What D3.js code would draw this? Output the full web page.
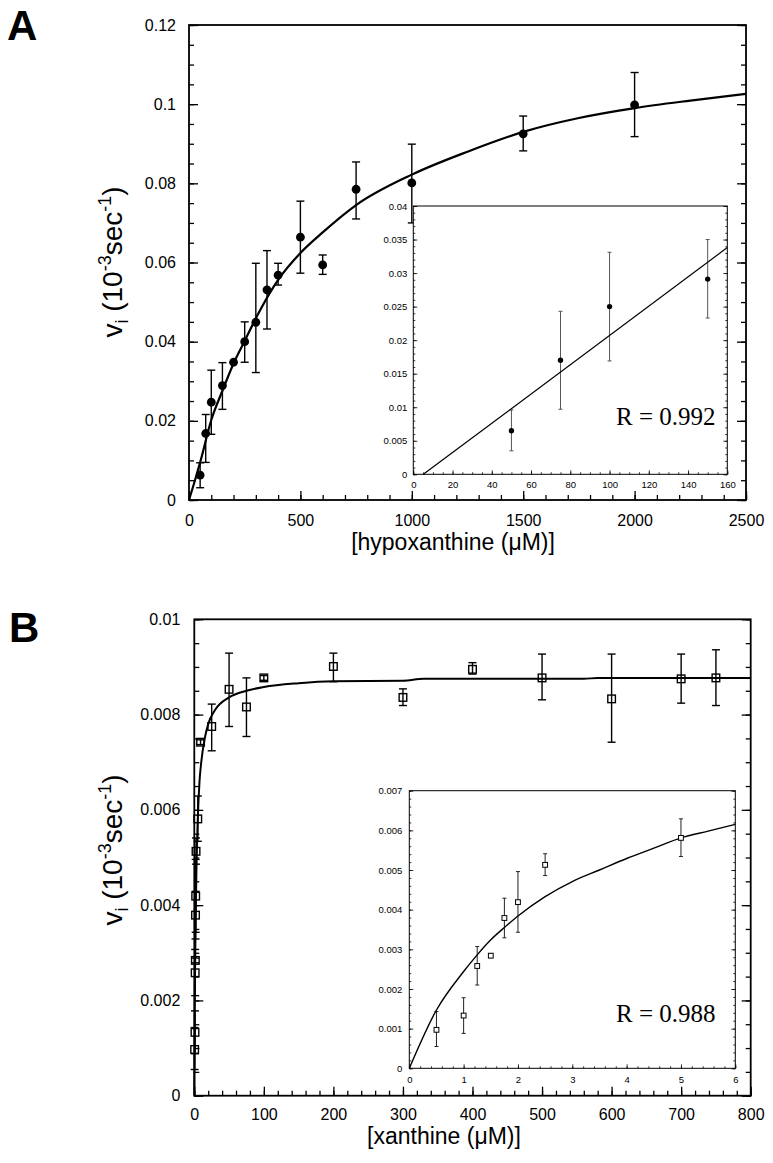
<!DOCTYPE html>
<html><head><meta charset="utf-8">
<script src="https://cdn.jsdelivr.net/npm/d3@7"></script>
<style>
body{margin:0;background:#fff}
svg{font-family:"Liberation Sans",Arial,Helvetica,sans-serif}
</style>
</head><body>
<svg id="chart" width="773" height="1163"></svg>
<script>
// ---------- Panel A : hypoxanthine ----------
const hypoX  = [50, 75, 100, 150, 200, 250, 300, 350, 400, 500, 600, 750, 1000, 1500, 2000];
const hypoV  = [0.0063, 0.0168, 0.0247, 0.0289, 0.0348, 0.0400, 0.0449, 0.0531, 0.0568, 0.0664, 0.0594, 0.0785, 0.0801, 0.0925, 0.0998];
const hypoHi = [0.0094, 0.0216, 0.0328, 0.0347, 0.0348, 0.0450, 0.0598, 0.0630, 0.0598, 0.0755, 0.0619, 0.0854, 0.0899, 0.0970, 0.1080];
const hypoLo = [0.0031, 0.0095, 0.0166, 0.0229, 0.0348, 0.0348, 0.0322, 0.0432, 0.0543, 0.0573, 0.0570, 0.0710, 0.0700, 0.0882, 0.0918];
const hypoFitX = [0, 25, 50, 100, 150, 200, 250, 300, 400, 500, 600, 750, 1000, 1250, 1500, 1750, 2000, 2250, 2500];
const hypoFitV = [0, 0.0046, 0.0095, 0.0202, 0.0276, 0.0345, 0.0402, 0.0459, 0.0556, 0.0624, 0.0676, 0.0745, 0.0822, 0.0880, 0.0930, 0.0965, 0.0990, 0.1009, 0.1026];
const hypoXTicks = [0, 500, 1000, 1500, 2000, 2500];
const hypoYTicks = [0, 0.02, 0.04, 0.06, 0.08, 0.1, 0.12];

// Inset A
const insAX  = [50, 75, 100, 150];
const insAV  = [0.0065, 0.0170, 0.0250, 0.0291];
const insAHi = [0.0096, 0.0243, 0.0331, 0.0350];
const insALo = [0.0035, 0.0097, 0.0169, 0.0233];
const insALineX = [5.1, 160];
const insALineV = [0, 0.0338];
const insAXTicks = [0, 20, 40, 60, 80, 100, 120, 140, 160];
const insAYTicks = [0, 0.005, 0.01, 0.015, 0.02, 0.025, 0.03, 0.035, 0.04];

// ---------- Panel B : xanthine ----------
const xanX  = [0.5, 1, 1.25, 1.5, 1.75, 2, 2.5, 5, 9, 25, 50, 75, 100, 200, 300, 400, 500, 600, 700, 750];
const xanV  = [0.00097, 0.00133, 0.00258, 0.00284, 0.00379, 0.00419, 0.00513, 0.00581, 0.00742, 0.00775, 0.00853, 0.00816, 0.00877, 0.00901, 0.00836, 0.00895, 0.00877, 0.00833, 0.00875, 0.00877];
const xanHi = [0.00143, 0.00178, 0.00307, 0.00289, 0.00429, 0.00496, 0.00541, 0.00629, 0.00747, 0.00822, 0.00929, 0.00877, 0.00882, 0.00929, 0.00854, 0.00909, 0.00927, 0.00927, 0.00927, 0.00936];
const xanLo = [0.00055, 0.00088, 0.00210, 0.00279, 0.00329, 0.00343, 0.00486, 0.00534, 0.00737, 0.00724, 0.00775, 0.00754, 0.00872, 0.00869, 0.00819, 0.00885, 0.00831, 0.00742, 0.00824, 0.00819];
const xanFitX = [0, 1, 2, 3, 5, 7.5, 10, 15, 20, 30, 50, 75, 100, 150, 200, 300, 330, 560, 580, 800];
const xanFitV = [0, 0.0025, 0.0038, 0.0047, 0.0058, 0.0066, 0.0070, 0.0075, 0.0078, 0.0081, 0.00836, 0.0085, 0.00858, 0.00866, 0.00870, 0.00871, 0.00875, 0.00875, 0.00877, 0.00877];
const xanXTicks = [0, 100, 200, 300, 400, 500, 600, 700, 800];
const xanYTicks = [0, 0.002, 0.004, 0.006, 0.008, 0.01];

// Inset B
const insBFitX = [0, 0.5, 1, 1.25, 1.5, 1.75, 2, 2.5, 3, 3.5, 4, 4.5, 5, 5.5, 6];
const insBFitV = [0, 0.00147, 0.00244, 0.00286, 0.00324, 0.00355, 0.00384, 0.00433, 0.00471, 0.00500, 0.00529, 0.00555, 0.00581, 0.00598, 0.00615];
const insBXTicks = [0, 1, 2, 3, 4, 5, 6];
const insBYTicks = [0, 0.001, 0.002, 0.003, 0.004, 0.005, 0.006, 0.007];

const svg = d3.select("#chart");
const fmt = d => String(+d.toFixed(4));
const SANS = '"Liberation Sans", Arial, Helvetica, sans-serif';
const SERIF = '"Liberation Serif", "Times New Roman", Times, serif';

function range(a, b, s) { const r = []; for (let v = a; v <= b + s * 1e-6; v += s) r.push(+v.toFixed(6)); return r; }

// generic framed plot
function framed(o) {
  const g = svg.append("g");
  const x = o.x, y = o.y;
  const [x0, x1] = x.range(), [y0, y1] = y.range();
  if (o.bg) g.append("rect").attr("x", x0).attr("y", y1).attr("width", x1 - x0).attr("height", y0 - y1).attr("fill", "#fff");
  const minorOpts = (ax) => ax.tickFormat("").tickSizeOuter(0);
  const addAxis = (ax, tr) => {
    const a = g.append("g").attr("transform", tr).call(ax);
    a.select(".domain").remove();
    a.selectAll("line").attr("stroke", "#000").attr("stroke-width", o.tickW);
    return a;
  };
  addAxis(minorOpts(d3.axisLeft(y).tickValues(o.yMinor).tickSize(-o.minorLen)), `translate(${x0},0)`);
  addAxis(minorOpts(d3.axisRight(y).tickValues(o.yMinor).tickSize(-o.minorLen)), `translate(${x1},0)`);
  addAxis(minorOpts(d3.axisBottom(x).tickValues(o.xMinor).tickSize(-o.minorLen)), `translate(0,${y0})`);
  addAxis(d3.axisRight(y).tickValues(o.yMajor).tickSize(-o.majorLen).tickFormat("").tickSizeOuter(0), `translate(${x1},0)`);
  const ya = addAxis(d3.axisLeft(y).tickValues(o.yMajor).tickSize(-o.majorLen).tickPadding(o.yPad).tickFormat(fmt).tickSizeOuter(0), `translate(${x0},0)`);
  const xa = addAxis(d3.axisBottom(x).tickValues(o.xMajor).tickSize(-o.majorLen).tickPadding(o.xPad).tickFormat(fmt).tickSizeOuter(0), `translate(0,${y0})`);
  [ya, xa].forEach(a => { a.attr("font-size", o.fs).attr("font-family", SANS);
    a.selectAll("text").attr("fill", "#000"); });
  g.append("rect").attr("x", x0).attr("y", y1).attr("width", x1 - x0).attr("height", y0 - y1)
    .attr("fill", "none").attr("stroke", "#000").attr("stroke-width", o.frameW);
  return g;
}

function errBars(g, x, y, xs, hi, lo, cap, color, w) {
  const idx = xs.map((d, i) => i).filter(i => Math.abs(y(hi[i]) - y(lo[i])) > 0.5);
  const eg = g.append("g").attr("stroke", color).attr("stroke-width", w).attr("fill", "none");
  idx.forEach(i => {
    const cx = x(xs[i]);
    eg.append("line").attr("x1", cx).attr("x2", cx).attr("y1", y(hi[i])).attr("y2", y(lo[i]));
    eg.append("line").attr("x1", cx - cap / 2).attr("x2", cx + cap / 2).attr("y1", y(hi[i])).attr("y2", y(hi[i]));
    eg.append("line").attr("x1", cx - cap / 2).attr("x2", cx + cap / 2).attr("y1", y(lo[i])).attr("y2", y(lo[i]));
  });
}

function yTitle(cx, cy) {
  const t = svg.append("text").attr("transform", `translate(${cx},${cy}) rotate(-90)`)
    .attr("text-anchor", "middle").attr("font-size", 28).attr("font-family", SANS);
  t.append("tspan").text("v");
  t.append("tspan").attr("font-size", 18).attr("dy", 6).text("i");
  t.append("tspan").attr("dy", -6).text(" (10");
  t.append("tspan").attr("font-size", 18).attr("dy", -11).text("-3");
  t.append("tspan").attr("dy", 11).text("sec");
  t.append("tspan").attr("font-size", 18).attr("dy", -11).text("-1");
  t.append("tspan").attr("dy", 11).text(")");
}

// ===== Panel A main =====
const xA = d3.scaleLinear().domain([0, 2500]).range([189, 746]);
const yA = d3.scaleLinear().domain([0, 0.12]).range([500, 25]);
const gA = framed({x: xA, y: yA, xMajor: hypoXTicks, yMajor: hypoYTicks,
  xMinor: range(0, 2500, 100), yMinor: range(0, 0.12, 0.005),
  majorLen: 9, minorLen: 5, tickW: 1.3, frameW: 1.8, fs: 16, yPad: 13, xPad: 15});
errBars(gA, xA, yA, hypoX, hypoHi, hypoLo, 8, "#000", 1.4);
gA.append("path").datum(hypoFitX.map((d, i) => [d, hypoFitV[i]]))
  .attr("d", d3.line().x(d => xA(d[0])).y(d => yA(d[1])).curve(d3.curveMonotoneX))
  .attr("fill", "none").attr("stroke", "#000").attr("stroke-width", 2.2);
gA.selectAll("circle.pt").data(hypoX).join("circle").attr("cx", d => xA(d)).attr("cy", (d, i) => yA(hypoV[i]))
  .attr("r", 4.4).attr("fill", "#000");

// ===== Inset A =====
const xIA = d3.scaleLinear().domain([0, 160]).range([413.3, 727.3]);
const yIA = d3.scaleLinear().domain([0, 0.04]).range([474.3, 206]);
const gIA = framed({x: xIA, y: yIA, xMajor: insAXTicks, yMajor: insAYTicks, bg: true,
  xMinor: range(0, 160, 5), yMinor: range(0, 0.04, 0.001),
  majorLen: 4, minorLen: 2, tickW: 0.8, frameW: 1, fs: 9.5, yPad: 6, xPad: 7});
errBars(gIA, xIA, yIA, insAX, insAHi, insALo, 4, "#555", 1);
gIA.append("path").datum(insALineX.map((d, i) => [d, insALineV[i]]))
  .attr("d", d3.line().x(d => xIA(d[0])).y(d => yIA(d[1])))
  .attr("fill", "none").attr("stroke", "#000").attr("stroke-width", 1.2);
gIA.selectAll("circle.pt").data(insAX).join("circle").attr("cx", d => xIA(d)).attr("cy", (d, i) => yIA(insAV[i]))
  .attr("r", 2.7).attr("fill", "#000");
gIA.append("text").attr("x", 616).attr("y", 425).attr("font-family", SERIF)
  .attr("font-size", 25).text("R = 0.992");

// titles A
svg.append("text").attr("x", 453).attr("y", 550).attr("text-anchor", "middle").attr("font-size", 23).attr("font-family", SANS).text("[hypoxanthine (μM)]");
yTitle(122, 262);
svg.append("text").attr("x", 7).attr("y", 40).attr("font-size", 42).attr("font-weight", "bold").attr("font-family", SANS).text("A");

// ===== Panel B main =====
const xB = d3.scaleLinear().domain([0, 800]).range([194.3, 750.7]);
const yB = d3.scaleLinear().domain([0, 0.01]).range([1095.7, 619.3]);
const gB = framed({x: xB, y: yB, xMajor: xanXTicks, yMajor: xanYTicks,
  xMinor: range(0, 800, 20), yMinor: range(0, 0.01, 0.0005),
  majorLen: 9, minorLen: 5, tickW: 1.3, frameW: 1.8, fs: 16, yPad: 14, xPad: 13});
errBars(gB, xB, yB, xanX, xanHi, xanLo, 8, "#000", 1.4);
gB.append("path").datum(xanFitX.map((d, i) => [d, xanFitV[i]]))
  .attr("d", d3.line().x(d => xB(d[0])).y(d => yB(d[1])).curve(d3.curveMonotoneX))
  .attr("fill", "none").attr("stroke", "#000").attr("stroke-width", 2);
gB.selectAll("rect.pt").data(xanX).join("rect").attr("x", d => xB(d) - 3.8).attr("y", (d, i) => yB(xanV[i]) - 3.8)
  .attr("width", 7.6).attr("height", 7.6).attr("fill", "none").attr("stroke", "#000").attr("stroke-width", 1.4);

// ===== Inset B =====
const xIB = d3.scaleLinear().domain([0, 6]).range([409.3, 735.3]);
const yIB = d3.scaleLinear().domain([0, 0.007]).range([1068.3, 790.7]);
const gIB = framed({x: xIB, y: yIB, xMajor: insBXTicks, yMajor: insBYTicks, bg: true,
  xMinor: range(0, 6, 0.2), yMinor: range(0, 0.007, 0.0002),
  majorLen: 4, minorLen: 2, tickW: 0.8, frameW: 1, fs: 9.5, yPad: 7, xPad: 8});
const inB = xanX.map((d, i) => i).filter(i => xanX[i] <= 6);
errBars(gIB, xIB, yIB, inB.map(i => xanX[i]), inB.map(i => xanHi[i]), inB.map(i => xanLo[i]), 4, "#222", 1);
gIB.append("path").datum(insBFitX.map((d, i) => [d, insBFitV[i]]))
  .attr("d", d3.line().x(d => xIB(d[0])).y(d => yIB(d[1])).curve(d3.curveMonotoneX))
  .attr("fill", "none").attr("stroke", "#000").attr("stroke-width", 1.4);
gIB.selectAll("rect.pt").data(inB).join("rect").attr("x", i => xIB(xanX[i]) - 2.4).attr("y", i => yIB(xanV[i]) - 2.4)
  .attr("width", 4.8).attr("height", 4.8).attr("fill", "#fff").attr("stroke", "#000").attr("stroke-width", 1);
gIB.append("text").attr("x", 616).attr("y", 1022).attr("font-family", SERIF)
  .attr("font-size", 25).text("R = 0.988");

// titles B
svg.append("text").attr("x", 444).attr("y", 1144).attr("text-anchor", "middle").attr("font-size", 23).attr("font-family", SANS).text("[xanthine (μM)]");
yTitle(122, 850);
svg.append("text").attr("x", 9).attr("y", 642).attr("font-size", 42).attr("font-weight", "bold").attr("font-family", SANS).text("B");
</script>
</body></html>
